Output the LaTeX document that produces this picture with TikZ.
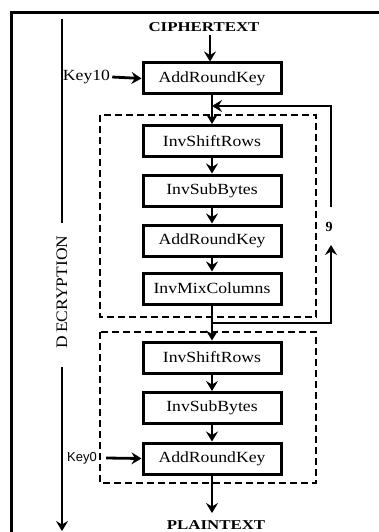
\documentclass[tikz,border=0pt]{standalone}
\usepackage{fontspec}
\setmainfont{Liberation Serif}
\newfontfamily\boxfont[FakeStretch=1.14]{Liberation Serif}
\newfontfamily\titlefont[FakeStretch=1.25]{Liberation Serif}
\newfontfamily\sidefont[FakeStretch=1.09]{Liberation Serif}
\newfontfamily\keysans{Liberation Sans}
\usetikzlibrary{arrows.meta}
\begin{document}
\begin{tikzpicture}[x=1pt,y=-1pt,
  stagebox/.style={draw,line width=3pt,minimum width=138pt,minimum height=31pt,inner sep=0pt,
    font=\boxfont\fontsize{15.5}{18}\selectfont},
  dashbox/.style={draw,line width=2.4pt,dash pattern=on 7pt off 4pt},
  flow/.style={line width=2.8pt,-{Stealth[length=10pt,width=12pt,inset=3.5pt]}},
  plainline/.style={line width=2.8pt},
  title/.style={font=\titlefont\bfseries\fontsize{13.5}{16}\selectfont,inner sep=0pt},
  keytxt/.style={font=\boxfont\fontsize{15.5}{18}\selectfont,inner sep=0pt}]
\useasboundingbox (0,0) rectangle (379,532);
% frame
\draw[line width=3pt] (11,540) -- (11,13) -- (385,13);
% dashed round groups
\draw[dashbox] (100,115) rectangle (316,317);
\draw[dashbox] (100,332) rectangle (316,483);
% texts
\node[title] (cipher) at (204,27) {CIPHERTEXT};
\node[title] (plain) at (216,525) {PLAINTEXT};
% stage boxes
\node[stagebox] (ark1) at (212,78.5) {AddRoundKey};
\node[stagebox] (isr1) at (212,141) {InvShiftRows};
\node[stagebox] (isb1) at (212,190.5) {InvSubBytes};
\node[stagebox] (ark2) at (212,240.5) {AddRoundKey};
\node[stagebox] (imc) at (212,288.5) {InvMixColumns};
\node[stagebox] (isr2) at (212,357.5) {InvShiftRows};
\node[stagebox] (isb2) at (212,408) {InvSubBytes};
\node[stagebox] (ark3) at (212,458.5) {AddRoundKey};
% keys
\node[keytxt] (key10) at (86.5,77) {Key10};
\node[inner sep=0pt,font=\keysans\fontsize{13}{15}\selectfont] (key0) at (82,458) {Key0};
\draw[flow] ([xshift=2pt]key10.east) -- (ark1.west);
\draw[flow] ([xshift=9pt]key0.east) -- (ark3.west);
% main flow
\coordinate (c0) at (210,35);
\draw[flow] (c0) -- (c0 |- ark1.north);
\draw[flow] (ark1.south) -- (isr1.north);
\draw[flow] (isr1.south) -- (isb1.north);
\draw[flow] (isb1.south) -- (ark2.north);
\draw[flow] (ark2.south) -- (imc.north);
\draw[flow] (imc.south) -- (isr2.north);
\draw[flow] (isr2.south) -- (isb2.north);
\draw[flow] (isb2.south) -- (ark3.north);
\coordinate (pend) at (212,513);
\draw[flow] (ark3.south) -- (pend);
% loop
\node[inner sep=0pt,font=\bfseries\fontsize{14}{16}\selectfont] (nine) at (329,227) {9};
\coordinate (ltop) at (331,106);
\coordinate (lbot) at (331,323);
\coordinate (lmid) at (331,245);
\coordinate (lup) at (331,207);
\coordinate (lin) at (212,106);
\coordinate (lout) at (212,323);
\draw[flow] (lout) -- (lbot) -- (lmid);
\draw[flow] (lup) -- (ltop) -- (lin);
% decryption side arrow
\node[rotate=90,inner sep=0pt,font=\sidefont\fontsize{16}{18}\selectfont] (dec) at (62,292) {D\hspace{3pt}ECRYPTION};
\coordinate (dtop) at (62,19);
\coordinate (dmid) at (62,223);
\coordinate (dlow) at (62,367);
\coordinate (dend) at (62,531);
\draw[plainline] (dtop) -- (dmid);
\draw[flow] (dlow) -- (dend);
\end{tikzpicture}
\end{document}
